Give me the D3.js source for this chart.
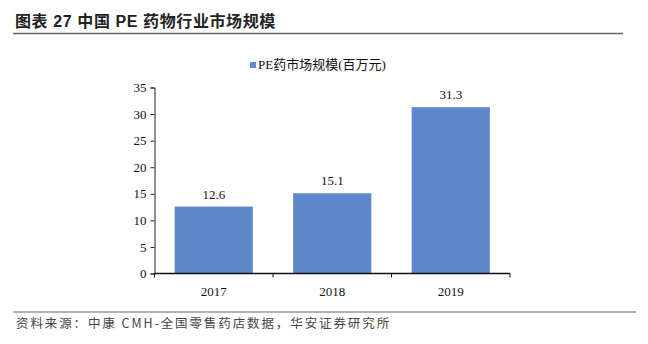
<!DOCTYPE html>
<html><head><meta charset="utf-8">
<script src="https://cdn.jsdelivr.net/npm/d3@7"></script>
<style>
body{margin:0;background:#fff;}
svg{display:block;}
</style></head>
<body>
<svg id="c" width="648" height="344"></svg>
<script>
const categories = ["2017","2018","2019"];
const values = [12.6, 15.1, 31.3];
const yTicks = [0,5,10,15,20,25,30,35];
const seriesName = "PE药市场规模(百万元)";
const titleText = "图表 27 中国 PE 药物行业市场规模";
const sourceText = "资料来源：中康 CMH-全国零售药店数据，华安证券研究所";

const svg = d3.select("#c");
const serif = "'Liberation Serif','Times New Roman','Noto Sans CJK SC',serif";
const cjk = "'Noto Sans CJK SC','Liberation Sans',sans-serif";

// title
svg.append("text").attr("x",15).attr("y",27).attr("font-family","'Liberation Sans','Noto Sans CJK SC',sans-serif")
  .attr("font-weight","bold").attr("font-size",16).attr("letter-spacing",0.6).attr("fill","#222").text(titleText);
svg.append("line").attr("x1",13).attr("x2",623).attr("y1",33.5).attr("y2",33.5).attr("stroke","#666").attr("stroke-width",1.5);
svg.append("line").attr("x1",13).attr("x2",636).attr("y1",312).attr("y2",312).attr("stroke","#666").attr("stroke-width",1.2);
svg.append("text").attr("x",16).attr("y",328).attr("font-family",cjk).attr("font-size",12.5).attr("letter-spacing",1.9)
  .attr("fill","#444").text(sourceText);

const x = d3.scaleBand().domain(categories).range([154.5,510]).paddingInner(0.34).paddingOuter(0.17);
const y = d3.scaleLinear().domain([0,35]).range([273.5,87.5]);

const color = "#5f87cc";
svg.selectAll("rect.bar").data(values).join("rect").attr("class","bar")
  .attr("x",(d,i)=>x(categories[i])).attr("width",x.bandwidth())
  .attr("y",d=>y(d)).attr("height",d=>y(0)-y(d)).attr("fill",color);

svg.selectAll("text.lbl").data(values).join("text").attr("class","lbl")
  .attr("x",(d,i)=>x(categories[i])+x.bandwidth()/2).attr("y",d=>y(d)-8)
  .attr("text-anchor","middle").attr("font-family",serif).attr("font-size",13).attr("fill","#111")
  .text(d=>d.toFixed(1));

// y axis
const yAxis = d3.axisLeft(y).tickValues(yTicks).tickSize(4).tickPadding(4);
const gy = svg.append("g").attr("transform","translate(154.5,0)").call(yAxis);
gy.select(".domain").attr("stroke","#222");
gy.selectAll(".tick line").attr("stroke","#222");
gy.selectAll(".tick text").attr("font-family",serif).attr("font-size",13).attr("fill","#111");

// x axis
const gx = svg.append("g").attr("transform","translate(0,273.5)");
gx.append("line").attr("x1",154.5).attr("x2",510).attr("stroke","#111").attr("stroke-width",1.5);
const bounds = [x.range()[0]].concat(categories.map(c=>x(c)-x.step()*x.paddingInner()/2+x.step()));
gx.selectAll("line.tk").data(bounds).join("line").attr("class","tk")
  .attr("x1",d=>d).attr("x2",d=>d).attr("y1",0).attr("y2",4).attr("stroke","#111");
gx.selectAll("text.xl").data(categories).join("text").attr("class","xl")
  .attr("x",c=>x(c)+x.bandwidth()/2).attr("y",22).attr("text-anchor","middle")
  .attr("font-family",serif).attr("font-size",13).attr("fill","#111").text(c=>c);

// legend
svg.append("rect").attr("x",250).attr("y",62).attr("width",6).attr("height",6).attr("fill",color);
svg.append("text").attr("x",258).attr("y",69).attr("font-family",serif).attr("font-size",13).attr("fill","#111").text(seriesName);
</script>
</body></html>
